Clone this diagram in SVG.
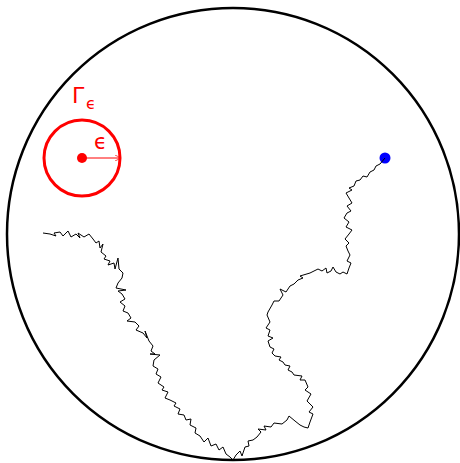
<svg xmlns="http://www.w3.org/2000/svg" width="460" height="463" viewBox="0 0 460 463">
<style>
.red{fill:none;stroke:#ff0000}
.lbl{font-family:"DejaVu Sans",sans-serif;fill:#ff0000}
</style>
<defs>
<marker id="ah" viewBox="0 0 10 10" refX="10" refY="5" markerWidth="6" markerHeight="6" orient="auto" markerUnits="userSpaceOnUse">
<path d="M0,0 L10,5 L0,10" fill="none" stroke="#ff0000" stroke-width="1.2"/>
</marker>
</defs>
<rect width="460" height="463" fill="#ffffff"/>
<g id="domain">
<circle cx="233" cy="234" r="226" fill="none" stroke="#000" stroke-width="2.5"/>
</g>
<g id="gamma">
<circle class="red" cx="82" cy="158" r="38" stroke-width="3"/>
<circle cx="82" cy="158" r="5" fill="#ff0000"/>
<text class="lbl" x="72" y="103" font-size="22">Γ</text>
<text class="lbl" x="86" y="109" font-size="16">ϵ</text>
<text class="lbl" x="94" y="149" font-size="21">ϵ</text>
</g>
<g id="endpoint">
<circle cx="385" cy="158" r="5.5" fill="#0000ff"/>
</g>
<g id="connectors">
<line class="red" x1="82" y1="158" x2="121" y2="158" stroke-width="1" marker-end="url(#ah)"/>
<path fill="none" stroke="#000" stroke-width="1" stroke-linejoin="miter" d="M43,233 L50,234 L56,236 L54,233 L60,232 L63,236 L68,231 L71,237 L76,234 L80,238 L78,233 L84,237 L89,234 L93,239 L96,243 L99,241 L100,248 L103,244 L101,252 L106,256 L104,259 L110,261 L108,265 L114,263 L115,269 L118,258 L119,269 L123,273 L122,278 L118,283 L116,288 L126,290 L118,291 L122,294 L125,299 L120,302 L125,306 L123,311 L128,313 L131,318 L127,321 L135,322 L139,326 L136,330 L143,333 L147,338 L145,331 L149,341 L153,346 L151,351 L155,354 L150,354 L160,355 L154,360 L153,366 L158,369 L156,374 L161,377 L158,383 L164,387 L162,390 L168,392 L165,398 L170,400 L176,403 L174,406 L180,409 L178,414 L184,415 L186,420 L191,419 L190,425 L196,428 L195,433 L200,436 L204,442 L208,438 L211,446 L216,444 L219,450 L223,447 L226,454 L230,457 L233,460 L236,455 L240,451 L242,456 L245,447 L249,446 L248,441 L253,440 L257,437 L261,432 L258,429 L266,430 L264,426 L271,427 L274,423 L282,424 L287,420 L289,416 L295,421 L300,425 L304,427 L308,428 L310,422 L313,414 L309,412 L313,407 L307,401 L311,394 L305,390 L308,387 L305,380 L300,380 L302,376 L294,375 L292,372 L288,370 L290,366 L285,365 L283,362 L279,360 L281,357 L275,356 L272,353 L274,349 L270,347 L268,341 L273,338 L268,336 L270,330 L266,328 L270,322 L267,315 L268,312 L272,305 L274,301 L279,301 L283,295 L280,289 L286,292 L290,286 L294,284 L298,280 L303,278 L300,276 L310,273 L314,271 L318,269 L322,271 L326,268 L327,273 L331,271 L333,267 L336,272 L340,274 L343,272 L347,274 L349,268 L351,263 L347,261 L350,255 L348,251 L346,246 L349,243 L345,239 L349,234 L352,230 L346,227 L349,222 L344,218 L347,213 L351,211 L347,206 L352,203 L349,198 L346,193 L352,190 L349,188 L354,186 L356,181 L360,180 L363,176 L367,177 L370,172 L374,170 L376,166 L380,164 L385,158"/>
</g>
</svg>
